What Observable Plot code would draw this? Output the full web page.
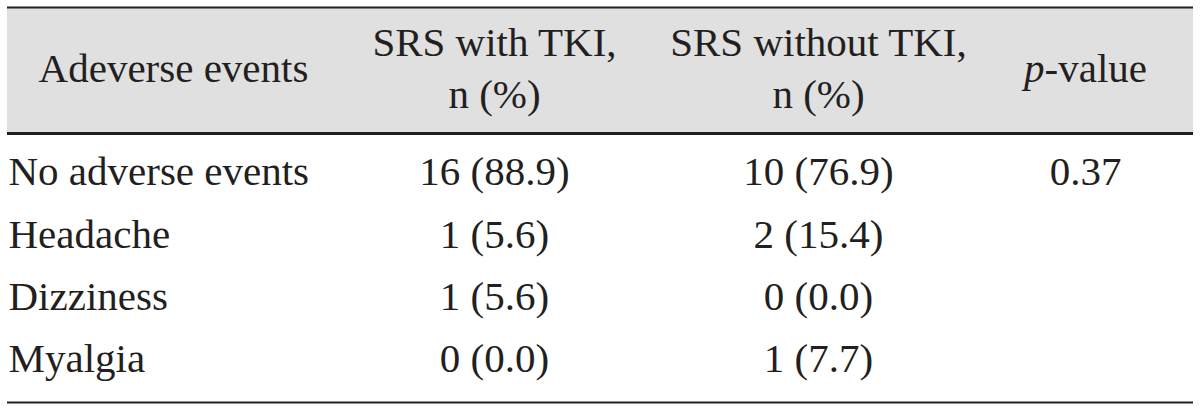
<!DOCTYPE html>
<html>
<head>
<meta charset="utf-8">
<script src="https://cdn.jsdelivr.net/npm/d3@7"></script>
<script src="https://cdn.jsdelivr.net/npm/@observablehq/plot@0.6"></script>
<style>
  html, body { margin: 0; padding: 0; background: #ffffff; }
  #chart svg { display: block; }
</style>
</head>
<body>
<div id="chart"></div>
<script>
// ---- Data ----
const headers = ["Adeverse events", "SRS with TKI,\nn (%)", "SRS without TKI,\nn (%)", "p-value"];
const events = ["No adverse events", "Headache", "Dizziness", "Myalgia"];
const withTKI_n = [16, 1, 1, 0];
const withTKI_pct = [88.9, 5.6, 5.6, 0.0];
const withoutTKI_n = [10, 2, 0, 1];
const withoutTKI_pct = [76.9, 15.4, 0.0, 7.7];
const pValues = ["0.37", "", "", ""];

// ---- Derived table ----
const fmt = (n, p) => `${n} (${p.toFixed(1)})`;
const rows = events.map((e, i) => ({
  row: i + 1,
  event: e,
  withTKI: fmt(withTKI_n[i], withTKI_pct[i]),
  withoutTKI: fmt(withoutTKI_n[i], withoutTKI_pct[i]),
  p: pValues[i]
}));
const headerCells = headers.map((h, i) => ({col: i + 0.5, text: h}));
// table boundaries in row units: top edge, header bottom, table bottom
const thinRules = [{y: -0.5}, {y: 4.5}];
const thickRules = [{y: 0.5}];
const headerBand = [{x1: 0, x2: 4, y1: -0.5, y2: 0.5}];

const ink = "#231f20";
const font = "Liberation Serif, Times New Roman, serif";
const common = {fontSize: 41, fontFamily: font, fill: ink, lineAnchor: "middle", lineHeight: 1.268};

const chart = Plot.plot({
  width: 1200,
  height: 409,
  marginTop: 0, marginRight: 0, marginBottom: 0, marginLeft: 0,
  style: {background: "#ffffff", fontFamily: font},
  x: {type: "linear", domain: [0, 0.5, 1.5, 2.5, 3.5, 4], range: [7, 173, 494, 818, 1085, 1193], axis: null},
  y: {type: "linear", domain: [-0.5, 0, 0.5, 1, 4, 4.5], range: [7, 64.4, 133, 168.3, 355.3, 402], axis: null},
  marks: [
    Plot.rect(headerBand, {x1: "x1", x2: "x2", y1: "y1", y2: "y2", fill: "#e0e0e0"}),
    Plot.ruleY(thinRules, {y: "y", x1: () => 0, x2: () => 4, stroke: ink, strokeWidth: 2}),
    Plot.ruleY(thickRules, {y: "y", x1: () => 0, x2: () => 4, stroke: ink, strokeWidth: 3}),
    Plot.text(headerCells, {x: "col", y: () => 0, text: "text", textAnchor: "middle", ...common}),
    Plot.text(rows, {x: () => 0, y: "row", text: "event", textAnchor: "start", dx: 1, ...common}),
    Plot.text(rows, {x: () => 1.5, y: "row", text: "withTKI", textAnchor: "middle", ...common}),
    Plot.text(rows, {x: () => 2.5, y: "row", text: "withoutTKI", textAnchor: "middle", ...common}),
    Plot.text(rows.filter(d => d.p), {x: () => 3.5, y: "row", text: "p", textAnchor: "middle", ...common})
  ]
});

// italic "p" in the "p-value" header
chart.querySelectorAll("text").forEach(t => {
  if (t.textContent === "p-value") {
    t.textContent = "";
    const ns = "http://www.w3.org/2000/svg";
    const a = document.createElementNS(ns, "tspan");
    a.setAttribute("font-style", "italic");
    a.textContent = "p";
    const b = document.createElementNS(ns, "tspan");
    b.textContent = "-value";
    t.appendChild(a);
    t.appendChild(b);
  }
});

document.getElementById("chart").appendChild(chart);
</script>
</body>
</html>
